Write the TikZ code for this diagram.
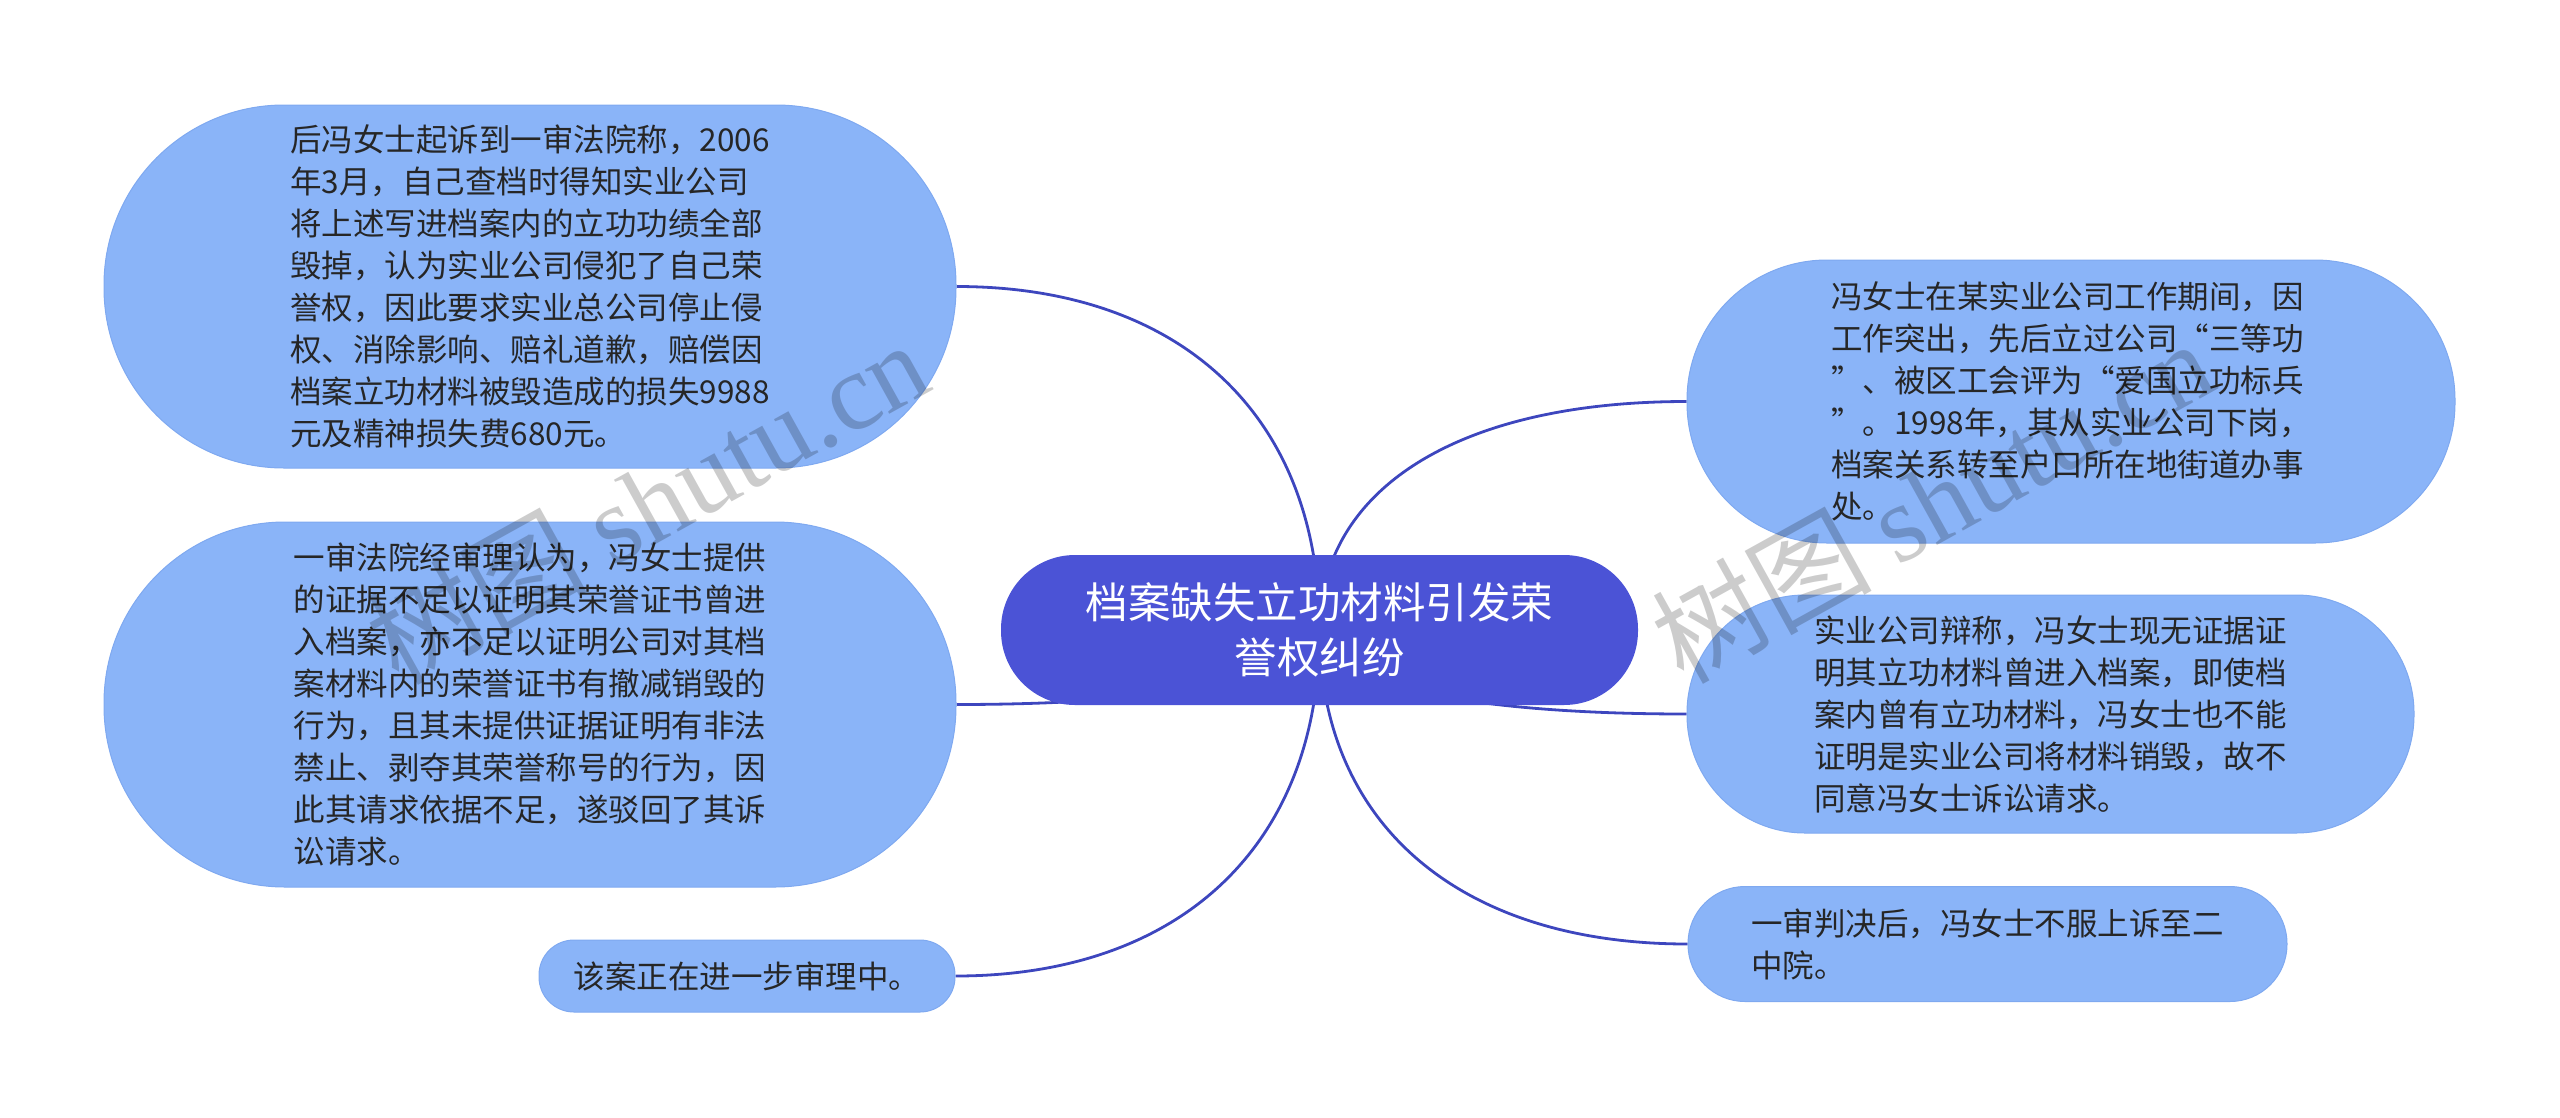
\documentclass[tikz,border=0pt]{standalone}
\usepackage{fontspec}
\setmainfont{Noto Sans CJK SC}
\newfontfamily\wmserif{Liberation Serif}
\usetikzlibrary{backgrounds}
\definecolor{rootfill}{HTML}{4B53D6}
\definecolor{childfill}{HTML}{8AB4F8}
\definecolor{childedge}{HTML}{7FA9F0}
\definecolor{linkcol}{HTML}{3D46BE}
\definecolor{txtcol}{HTML}{262626}
\begin{document}
\begin{tikzpicture}[x=1pt,y=-1pt,
  rootbox/.style={fill=rootfill, text=white, font=\fontsize{42.5}{55}\selectfont,
    align=center, inner sep=0pt, minimum width=637pt, minimum height=150pt, rounded corners=74pt},
  childbox/.style={fill=childfill, draw=childedge, line width=1pt, text=txtcol,
    font=\fontsize{31.5}{42}\selectfont, align=left, inner sep=0pt},
  link/.style={draw=linkcol, line width=2.8pt},
  wm/.style={text=black, opacity=0.2, font=\fontsize{110}{110}\selectfont, inner sep=0pt}]
\useasboundingbox (0,0) rectangle (2560,1117);

\node[rootbox] (root) at (1319.5,630) {档案缺失立功材料引发荣\\誉权纠纷};

\node[childbox, minimum width=852pt, minimum height=363pt, rounded corners=180pt] (n1) at (530,286.5)
 {后冯女士起诉到一审法院称，2006\\年3月，自己查档时得知实业公司\\将上述写进档案内的立功功绩全部\\毁掉，认为实业公司侵犯了自己荣\\誉权，因此要求实业总公司停止侵\\权、消除影响、赔礼道歉，赔偿因\\档案立功材料被毁造成的损失9988\\元及精神损失费680元。};

\node[childbox, minimum width=852pt, minimum height=365pt, rounded corners=181pt] (n2) at (530,704.5)
 {一审法院经审理认为，冯女士提供\\的证据不足以证明其荣誉证书曾进\\入档案，亦不足以证明公司对其档\\案材料内的荣誉证书有撤减销毁的\\行为，且其未提供证据证明有非法\\禁止、剥夺其荣誉称号的行为，因\\此其请求依据不足，遂驳回了其诉\\讼请求。};

\node[childbox, minimum width=416pt, minimum height=72pt, rounded corners=35pt] (n3) at (747,976)
 {该案正在进一步审理中。};

\node[childbox, minimum width=768pt, minimum height=283pt, rounded corners=140pt] (n4) at (2071,401.5)
 {冯女士在某实业公司工作期间，因\\工作突出，先后立过公司“三等功\\”、被区工会评为“爱国立功标兵\\”。1998年，其从实业公司下岗，\\档案关系转至户口所在地街道办事\\处。};

\node[childbox, minimum width=727pt, minimum height=238pt, rounded corners=118pt] (n5) at (2050.5,714)
 {实业公司辩称，冯女士现无证据证\\明其立功材料曾进入档案，即使档\\案内曾有立功材料，冯女士也不能\\证明是实业公司将材料销毁，故不\\同意冯女士诉讼请求。};

\node[childbox, minimum width=599pt, minimum height=115pt, rounded corners=57pt] (n6) at (1987.5,944)
 {一审判决后，冯女士不服上诉至二\\中院。};

\begin{scope}[on background layer]
\draw[link] (root.center) .. controls (1320,417) and (1182,286.5) .. (n1.east);
\draw[link] (root.center) .. controls (1320,676) and (1182,704.5) .. (n2.east);
\draw[link] (root.center) .. controls (1320,844.5) and (1181,976) .. (n3.east);
\draw[link] (root.center) .. controls (1320,488) and (1459.5,401.5) .. (n4.west);
\draw[link] (root.center) .. controls (1320,682) and (1459.5,714) .. (n5.west);
\draw[link] (root.center) .. controls (1320,824.7) and (1460,944) .. (n6.west);
\end{scope}

\node[wm, rotate=29] (wm1) at (647,501) {树图 {\wmserif shutu.cn}};
\node[wm, rotate=29] (wm2) at (1932,500) {树图 {\wmserif shutu.cn}};
\end{tikzpicture}
\end{document}
